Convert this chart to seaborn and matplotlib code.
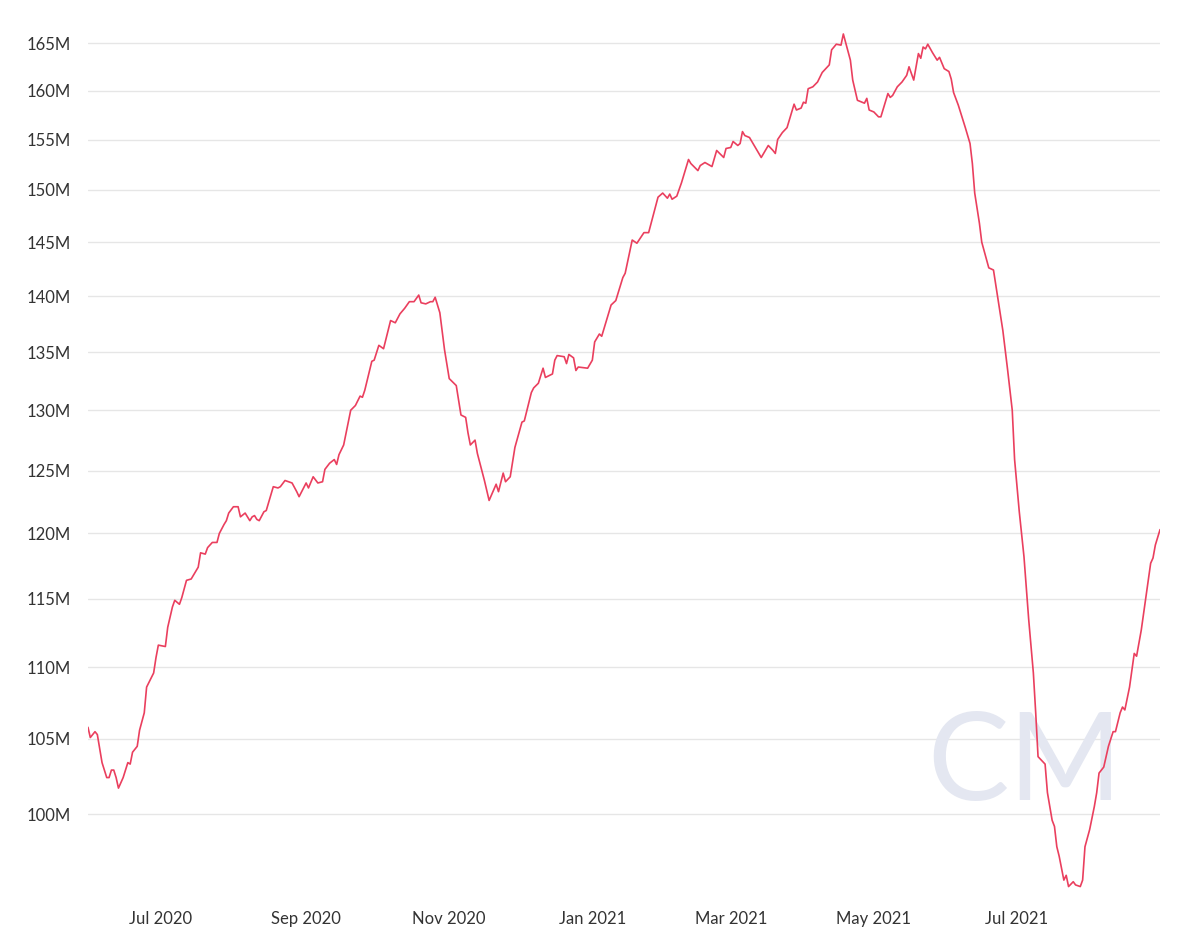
import pandas as pd
import matplotlib
matplotlib.use('Agg')
import matplotlib.pyplot as plt
import matplotlib.dates as mdates
from matplotlib.ticker import FixedLocator, FuncFormatter, NullLocator
import seaborn as sns

# values (millions)
dates = [
    '2020-05-31', '2020-06-01', '2020-06-03', '2020-06-04', '2020-06-06', '2020-06-08', '2020-06-09',
    '2020-06-10', '2020-06-11', '2020-06-12', '2020-06-13', '2020-06-15', '2020-06-17', '2020-06-18',
    '2020-06-19', '2020-06-21', '2020-06-22', '2020-06-24', '2020-06-25', '2020-06-28', '2020-06-29',
    '2020-06-30', '2020-07-03', '2020-07-04', '2020-07-06', '2020-07-07', '2020-07-09', '2020-07-10',
    '2020-07-12', '2020-07-14', '2020-07-17', '2020-07-18', '2020-07-20', '2020-07-21', '2020-07-23',
    '2020-07-25', '2020-07-26', '2020-07-28', '2020-07-29', '2020-07-30', '2020-08-01', '2020-08-03',
    '2020-08-04', '2020-08-06', '2020-08-08', '2020-08-09', '2020-08-10', '2020-08-11', '2020-08-12',
    '2020-08-14', '2020-08-15', '2020-08-18', '2020-08-20', '2020-08-21', '2020-08-23', '2020-08-26',
    '2020-08-28', '2020-08-29', '2020-09-01', '2020-09-02', '2020-09-04', '2020-09-06', '2020-09-08',
    '2020-09-09', '2020-09-11', '2020-09-13', '2020-09-14', '2020-09-15', '2020-09-17', '2020-09-20',
    '2020-09-22', '2020-09-24', '2020-09-25', '2020-09-26', '2020-09-29', '2020-09-30', '2020-10-02',
    '2020-10-04', '2020-10-07', '2020-10-09', '2020-10-11', '2020-10-13', '2020-10-15', '2020-10-17',
    '2020-10-19', '2020-10-20', '2020-10-22', '2020-10-24', '2020-10-25', '2020-10-26', '2020-10-28',
    '2020-10-30', '2020-11-01', '2020-11-04', '2020-11-06', '2020-11-08', '2020-11-09', '2020-11-10',
    '2020-11-12', '2020-11-13', '2020-11-16', '2020-11-18', '2020-11-21', '2020-11-22', '2020-11-24',
    '2020-11-25', '2020-11-27', '2020-11-29', '2020-12-02', '2020-12-03', '2020-12-06', '2020-12-07',
    '2020-12-09', '2020-12-11', '2020-12-12', '2020-12-15', '2020-12-16', '2020-12-17', '2020-12-20',
    '2020-12-21', '2020-12-22', '2020-12-24', '2020-12-25', '2020-12-26', '2020-12-30', '2021-01-01',
    '2021-01-02', '2021-01-04', '2021-01-05', '2021-01-07', '2021-01-09', '2021-01-11', '2021-01-14',
    '2021-01-15', '2021-01-18', '2021-01-20', '2021-01-23', '2021-01-25', '2021-01-27', '2021-01-29',
    '2021-01-31', '2021-02-02', '2021-02-03', '2021-02-04', '2021-02-06', '2021-02-08', '2021-02-11',
    '2021-02-12', '2021-02-15', '2021-02-16', '2021-02-18', '2021-02-21', '2021-02-23', '2021-02-26',
    '2021-02-27', '2021-03-01', '2021-03-02', '2021-03-04', '2021-03-05', '2021-03-06', '2021-03-07',
    '2021-03-09', '2021-03-14', '2021-03-17', '2021-03-19', '2021-03-20', '2021-03-21', '2021-03-23',
    '2021-03-25', '2021-03-28', '2021-03-29', '2021-03-31', '2021-04-01', '2021-04-02', '2021-04-03',
    '2021-04-05', '2021-04-07', '2021-04-09', '2021-04-12', '2021-04-13', '2021-04-15', '2021-04-17',
    '2021-04-18', '2021-04-21', '2021-04-22', '2021-04-24', '2021-04-27', '2021-04-28', '2021-04-29',
    '2021-05-01', '2021-05-03', '2021-05-04', '2021-05-07', '2021-05-08', '2021-05-09', '2021-05-11',
    '2021-05-13', '2021-05-15', '2021-05-16', '2021-05-18', '2021-05-20', '2021-05-21', '2021-05-22',
    '2021-05-23', '2021-05-24', '2021-05-26', '2021-05-28', '2021-05-29', '2021-05-31', '2021-06-02',
    '2021-06-03', '2021-06-04', '2021-06-06', '2021-06-09', '2021-06-11', '2021-06-12', '2021-06-13',
    '2021-06-15', '2021-06-16', '2021-06-19', '2021-06-21', '2021-06-23', '2021-06-25', '2021-06-27',
    '2021-06-29', '2021-06-30', '2021-07-02', '2021-07-04', '2021-07-06', '2021-07-08', '2021-07-09',
    '2021-07-10', '2021-07-13', '2021-07-14', '2021-07-16', '2021-07-17', '2021-07-18', '2021-07-19',
    '2021-07-21', '2021-07-22', '2021-07-23', '2021-07-25', '2021-07-26', '2021-07-28', '2021-07-29',
    '2021-07-30', '2021-08-01', '2021-08-03', '2021-08-04', '2021-08-05', '2021-08-07', '2021-08-09',
    '2021-08-11', '2021-08-12', '2021-08-14', '2021-08-15', '2021-08-16', '2021-08-18', '2021-08-20',
    '2021-08-21', '2021-08-23', '2021-08-26', '2021-08-27', '2021-08-28', '2021-08-29', '2021-08-31',
]
values = [
    105.8, 105.1, 105.5, 105.3, 103.4, 102.4, 102.4,
    102.9, 102.9, 102.4, 101.7, 102.4, 103.4, 103.3,
    104.1, 104.5, 105.6, 106.8, 108.6, 109.6, 110.7,
    111.6, 111.5, 112.9, 114.4, 114.9, 114.6, 115.1,
    116.4, 116.5, 117.4, 118.5, 118.4, 118.9, 119.3,
    119.3, 120.0, 120.7, 121.0, 121.6, 122.1, 122.1,
    121.3, 121.6, 121.0, 121.3, 121.4, 121.1, 121.0,
    121.7, 121.8, 123.7, 123.6, 123.7, 124.2, 124.0,
    123.3, 122.9, 124.0, 123.6, 124.5, 124.0, 124.1,
    125.1, 125.6, 125.9, 125.5, 126.3, 127.1, 130.0,
    130.4, 131.2, 131.1, 131.7, 134.2, 134.3, 135.6,
    135.3, 137.8, 137.6, 138.4, 138.9, 139.5, 139.5,
    140.1, 139.4, 139.3, 139.5, 139.5, 139.9, 138.5,
    135.2, 132.7, 132.1, 129.6, 129.4, 128.1, 127.1,
    127.5, 126.4, 124.2, 122.6, 123.9, 123.3, 124.8,
    124.1, 124.5, 126.9, 129.0, 129.1, 131.5, 131.9,
    132.3, 133.6, 132.8, 133.1, 134.3, 134.7, 134.6,
    134.0, 134.8, 134.5, 133.4, 133.7, 133.6, 134.3,
    135.9, 136.6, 136.4, 137.8, 139.2, 139.6, 141.7,
    142.1, 145.2, 144.9, 145.9, 145.9, 147.6, 149.3,
    149.7, 149.2, 149.6, 149.1, 149.4, 150.7, 153.0,
    152.6, 151.9, 152.4, 152.7, 152.3, 153.9, 153.2,
    154.1, 154.2, 154.8, 154.4, 154.6, 155.8, 155.4,
    155.2, 153.2, 154.4, 153.9, 153.6, 155.0, 155.7,
    156.2, 158.6, 158.0, 158.2, 158.8, 158.7, 160.2,
    160.4, 160.9, 161.9, 162.7, 164.3, 164.9, 164.8,
    166.0, 163.2, 161.1, 159.0, 158.7, 159.2, 158.0,
    157.8, 157.3, 157.3, 159.7, 159.3, 159.5, 160.4,
    160.9, 161.6, 162.5, 161.1, 163.9, 163.4, 164.6,
    164.4, 164.9, 164.0, 163.2, 163.5, 162.3, 162.0,
    161.2, 159.8, 158.5, 156.2, 154.6, 152.6, 149.7,
    146.8, 145.0, 142.6, 142.4, 139.6, 136.9, 133.5,
    130.0, 125.9, 121.7, 118.2, 113.5, 109.6, 106.8,
    103.8, 103.3, 101.4, 99.6, 99.2, 97.9, 97.3,
    95.8, 96.1, 95.4, 95.7, 95.5, 95.4, 95.8,
    97.9, 99.0, 100.5, 101.4, 102.7, 103.1, 104.5,
    105.5, 105.5, 106.8, 107.2, 107.0, 108.6, 111.0,
    110.8, 112.7, 116.4, 117.7, 118.1, 119.1, 120.3,
]
y_ticks = [100, 105, 110, 115, 120, 125, 130, 135, 140, 145, 150, 155, 160, 165]

df = pd.DataFrame({'date': pd.to_datetime(dates), 'value': values})

sns.set_theme(style='white')
plt.rcParams['font.family'] = ['Lato', 'DejaVu Sans']

fig = plt.figure(figsize=(12, 9.46), dpi=100)
ax = fig.add_axes([0.0733, 0.056, 0.8934, 0.912])

sns.lineplot(data=df, x='date', y='value', ax=ax, color='#ea3f5e', linewidth=1.2, zorder=3)

ax.set_yscale('log')
ax.yaxis.set_major_locator(FixedLocator(y_ticks))
ax.yaxis.set_minor_locator(NullLocator())
ax.yaxis.set_major_formatter(FuncFormatter(lambda v, p: f'{v:.0f}M'))
ax.set_ylim(95.0, 166.4)
ax.set_xlim(df['date'].iloc[0], df['date'].iloc[-1])

ax.xaxis.set_major_locator(mdates.MonthLocator(bymonth=[1, 3, 5, 7, 9, 11]))
ax.xaxis.set_major_formatter(mdates.DateFormatter('%b %Y'))

ax.grid(axis='y', color='#e6e6e6', linewidth=1)
ax.grid(axis='x', visible=False)
for s in ax.spines.values():
    s.set_visible(False)
ax.tick_params(axis='both', length=0, labelsize=12, labelcolor='#333333')
ax.tick_params(axis='y', pad=12)
ax.tick_params(axis='x', pad=13)
ax.set_xlabel('')
ax.set_ylabel('')

# CM watermark
ax.text(0.874, 0.148, 'CM', transform=ax.transAxes, fontsize=88, color='#e4e7f1',
        ha='center', va='center', zorder=1)

plt.savefig('out.png', dpi=100)
